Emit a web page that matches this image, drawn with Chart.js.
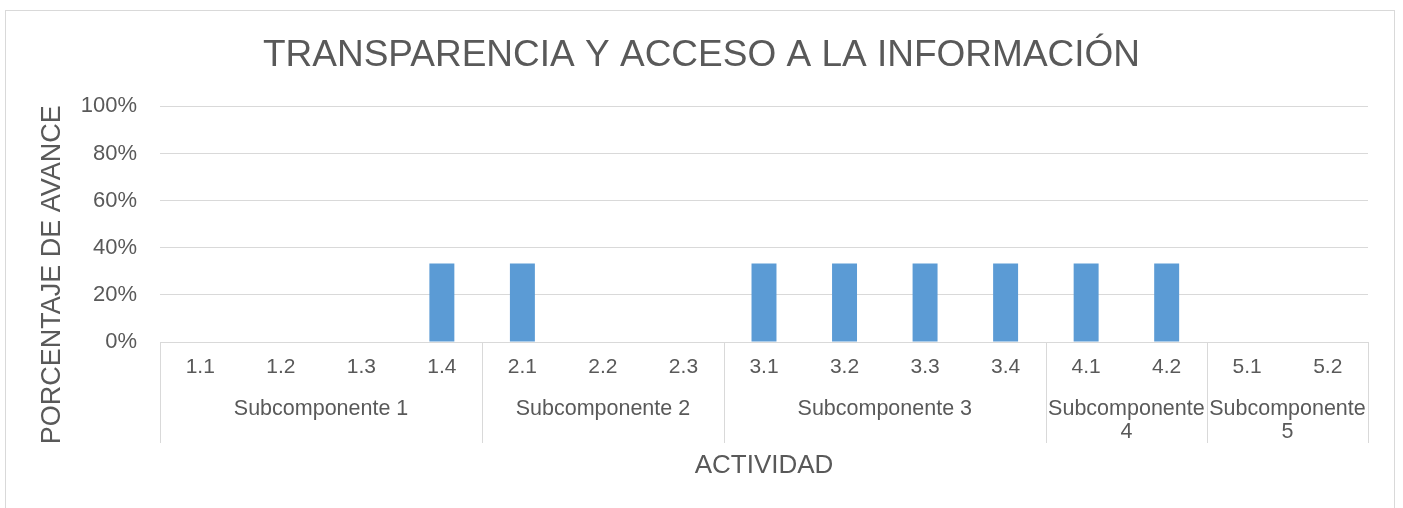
<!DOCTYPE html>
<html>
<head>
<meta charset="utf-8">
<script src="https://cdn.jsdelivr.net/npm/chart.js@4"></script>
<style>
  html, body { margin: 0; padding: 0; background: #ffffff; }
  #wrap { width: 1403px; height: 508px; }
</style>
</head>
<body>
<div id="wrap"><canvas id="chart" width="1403" height="508"></canvas></div>
<script>
// activity codes (inner axis level)
const activities = ['1.1', '1.2', '1.3', '1.4', '2.1', '2.2', '2.3', '3.1', '3.2', '3.3', '3.4', '4.1', '4.2', '5.1', '5.2'];
// outer axis level and how many activities each one holds
const subcomponents = ['Subcomponente 1', 'Subcomponente 2', 'Subcomponente 3', 'Subcomponente 4', 'Subcomponente 5'];
const activitiesPerSub = [4, 3, 4, 2, 2];
// porcentaje de avance per activity
const progress = [0, 0, 0, 0.333, 0.333, 0, 0, 0.333, 0.333, 0.333, 0.333, 0.333, 0.333, 0, 0];

const yTitle = 'PORCENTAJE DE AVANCE';

const textColor = '#595959';
const lineColor = '#d9d9d9';
const fontFamily = '"Liberation Sans", Arial, sans-serif';

// frame round the whole chart, like the Excel chart area
const framePlugin = {
    id: 'frame',
    beforeDraw(chart) {
        const ctx = chart.ctx;
        ctx.save();
        ctx.strokeStyle = lineColor;
        ctx.lineWidth = 1;
        ctx.strokeRect(5.5, 10.5, 1389, 520);
        ctx.restore();
    }
};

// second level of the category axis: group names + separators,
// and the value axis title centred over plot + category area (Excel style)
const groupAxisPlugin = {
    id: 'groupAxis',
    afterDraw(chart) {
        const ctx = chart.ctx;
        const xScale = chart.scales.x;
        const area = chart.chartArea;
        const catWidth = (area.right - area.left) / activities.length;
        const lineBottom = 443;

        ctx.save();
        ctx.strokeStyle = lineColor;
        ctx.lineWidth = 1;
        ctx.fillStyle = textColor;
        ctx.font = '21.5px ' + fontFamily;
        ctx.textAlign = 'center';
        ctx.textBaseline = 'middle';

        let start = 0;
        let edges = [Math.round(xScale.getPixelForValue(0) - catWidth / 2)];
        subcomponents.forEach((name, i) => {
            const end = start + activitiesPerSub[i] - 1;
            const left = xScale.getPixelForValue(start) - catWidth / 2;
            const right = xScale.getPixelForValue(end) + catWidth / 2;
            edges.push(Math.round(right));

            // word wrap when the name does not fit in its group
            const words = name.split(' ');
            let lines = [];
            let cur = '';
            words.forEach(w => {
                const test = cur ? cur + ' ' + w : w;
                if (ctx.measureText(test).width > right - left && cur) {
                    lines.push(cur);
                    cur = w;
                } else {
                    cur = test;
                }
            });
            lines.push(cur);
            lines.forEach((line, li) => {
                ctx.fillText(line, (left + right) / 2, 409 + li * 23);
            });
            start = end + 1;
        });

        edges.forEach(x => {
            ctx.beginPath();
            ctx.moveTo(x + 0.5, area.bottom);
            ctx.lineTo(x + 0.5, lineBottom);
            ctx.stroke();
        });

        ctx.font = '27px ' + fontFamily;
        ctx.translate(53, (area.top + lineBottom) / 2);
        ctx.rotate(-Math.PI / 2);
        ctx.fillText(yTitle, 0, 0);
        ctx.restore();
    }
};

new Chart(document.getElementById('chart'), {
    type: 'bar',
    data: {
        labels: activities,
        datasets: [{
            label: 'Avance',
            data: progress,
            backgroundColor: '#5b9bd5',
            borderWidth: 0,
            barPercentage: 0.31,
            categoryPercentage: 1
        }]
    },
    options: {
        responsive: false,
        animation: false,
        layout: {
            padding: { left: 35, right: 35, top: 10, bottom: 0 }
        },
        plugins: {
            legend: { display: false },
            tooltip: { enabled: false },
            title: {
                display: true,
                text: 'TRANSPARENCIA Y ACCESO A LA INFORMACIÓN',
                color: textColor,
                font: { family: fontFamily, size: 37, weight: 'normal' },
                padding: { top: 24, bottom: 28 }
            }
        },
        scales: {
            x: {
                grid: { display: false, drawTicks: false },
                border: { display: true, color: lineColor, width: 1 },
                ticks: {
                    color: textColor,
                    font: { family: fontFamily, size: 21 },
                    padding: 13,
                    maxRotation: 0,
                    autoSkip: false
                },
                title: {
                    display: true,
                    text: 'ACTIVIDAD',
                    color: textColor,
                    font: { family: fontFamily, size: 26 },
                    padding: { top: 0, bottom: 27 }
                },
                afterFit(scale) {
                    scale.height = 166;
                }
            },
            y: {
                min: 0,
                max: 1,
                grid: { color: lineColor, drawTicks: false, lineWidth: 1 },
                border: { display: false },
                ticks: {
                    stepSize: 0.2,
                    color: textColor,
                    font: { family: fontFamily, size: 22 },
                    padding: 23,
                    callback: v => Math.round(v * 100) + '%'
                },
                afterFit(scale) {
                    scale.width = 125;
                }
            }
        }
    },
    plugins: [framePlugin, groupAxisPlugin]
});
</script>
</body>
</html>
